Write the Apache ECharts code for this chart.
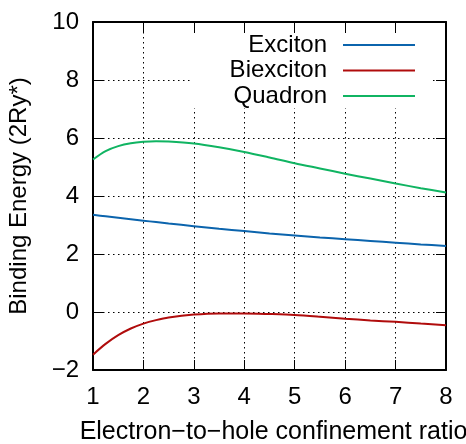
<!DOCTYPE html>
<html>
<head>
<meta charset="utf-8">
<script src="https://cdn.jsdelivr.net/npm/echarts@6/dist/echarts.min.js"></script>
<style>
  html, body { margin: 0; padding: 0; background: #fff; }
  #main { width: 466px; height: 444px; }
</style>
</head>
<body>
<div id="main"></div>
<script>
// data
let ratio = [1, 1.25, 1.5, 1.75, 2, 2.25, 2.5, 3, 3.5, 4, 4.5, 5, 5.5, 6, 6.5, 7, 7.5, 8];
let exciton = [3.35, 3.30, 3.25, 3.20, 3.15, 3.10, 3.05, 2.96, 2.87, 2.79, 2.71, 2.64, 2.57, 2.51, 2.45, 2.39, 2.33, 2.28];
let biexciton = [-1.47, -1.10, -0.80, -0.57, -0.40, -0.28, -0.19, -0.09, -0.05, -0.05, -0.07, -0.10, -0.16, -0.23, -0.29, -0.34, -0.40, -0.46];
let quadron = [5.26, 5.55, 5.72, 5.82, 5.87, 5.89, 5.88, 5.81, 5.68, 5.52, 5.33, 5.13, 4.95, 4.77, 4.60, 4.43, 4.27, 4.12];
let names = ['Exciton', 'Biexciton', 'Quadron'];
let colors = ['#0b64ad', '#b00c0c', '#10b462'];

let font = 'Liberation Sans, Arial, Helvetica, sans-serif';

function pairs(ys) {
    return ratio.map(function (x, i) { return [x, ys[i]]; });
}

let myChart = echarts.init(document.getElementById('main'), null, { renderer: 'canvas' });

let frameLine = { show: true, onZero: false, lineStyle: { color: '#000', width: 2 } };
let ticksIn = { show: true, inside: true, length: 10, lineStyle: { color: '#000', width: 1 } };
let gridLine = { show: true, lineStyle: { color: '#000', width: 1, type: [1.5, 3.5] } };

let option = {
    animation: false,
    backgroundColor: '#fff',
    textStyle: { fontFamily: font },
    grid: { left: 93, right: 20, top: 22, bottom: 74, outerBoundsMode: 'none', containLabel: false },
    graphic: [{
        type: 'rect',
        z: 1,
        shape: { x: 193, y: 33, width: 237, height: 75 },
        style: { fill: '#fff' }
    }],
    legend: names.map(function (n, i) {
        return {
            data: [n],
            right: 51,
            top: 33 + i * 25.5,
            padding: 0,
            align: 'right',
            icon: 'rect',
            itemWidth: 72,
            itemHeight: 2,
            z: 5,
            textStyle: { fontSize: 24, color: '#000', fontFamily: font, padding: [0, 11, 0, 0] }
        };
    }),
    xAxis: [{
        type: 'value',
        min: 1, max: 8, interval: 1,
        name: 'Electron\u2212to\u2212hole confinement ratio',
        nameLocation: 'middle',
        nameGap: 50,
        nameTextStyle: { fontSize: 25, color: '#000', fontFamily: font, padding: [0, 0, 0, 8] },
        axisLine: frameLine,
        axisTick: ticksIn,
        axisLabel: { fontSize: 24, color: '#000', margin: 15, fontFamily: font },
        splitLine: gridLine
    }, {
        type: 'value',
        position: 'top',
        min: 1, max: 8, interval: 1,
        axisLine: frameLine,
        axisTick: ticksIn,
        axisLabel: { show: false },
        splitLine: { show: false }
    }],
    yAxis: [{
        type: 'value',
        min: -2, max: 10, interval: 2,
        name: 'Binding Energy (2Ry*)',
        nameLocation: 'middle',
        nameGap: 62,
        nameTextStyle: { fontSize: 24, color: '#000', fontFamily: font },
        axisLine: frameLine,
        axisTick: ticksIn,
        axisLabel: {
            fontSize: 24, color: '#000', margin: 14, fontFamily: font,
            formatter: function (v) { return String(v).replace('-', '\u2212'); }
        },
        splitLine: gridLine
    }, {
        type: 'value',
        position: 'right',
        min: -2, max: 10, interval: 2,
        axisLine: frameLine,
        axisTick: ticksIn,
        axisLabel: { show: false },
        splitLine: { show: false }
    }],
    series: [exciton, biexciton, quadron].map(function (ys, i) {
        return {
            name: names[i],
            type: 'line',
            data: pairs(ys),
            smooth: 0.3,
            symbol: 'none',
            z: 3,
            lineStyle: { color: colors[i], width: 2 },
            itemStyle: { color: colors[i] }
        };
    })
};

myChart.setOption(option);
</script>
</body>
</html>
